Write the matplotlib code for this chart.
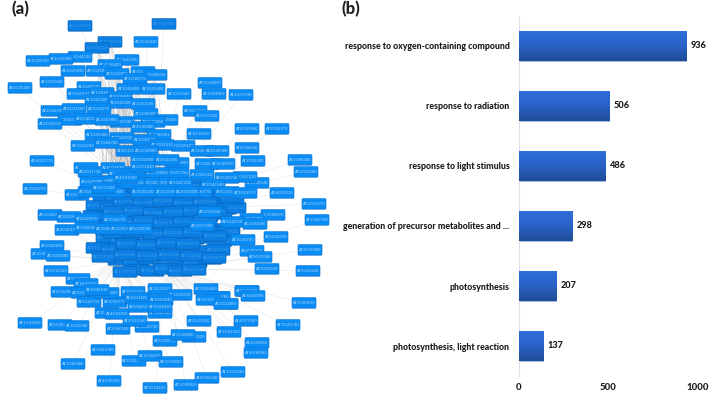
import numpy as np
import matplotlib
matplotlib.use("Agg")
import matplotlib.pyplot as plt
from matplotlib.collections import LineCollection
from matplotlib.patches import FancyBboxPatch

plt.rcParams['font.family'] = ['Lato', 'DejaVu Sans']

# Panel (b): enriched terms
terms = ["response to oxygen-containing compound", "response to radiation",
         "response to light stimulus", "generation of precursor metabolites and ...",
         "photosynthesis", "photosynthesis, light reaction"]
counts = [936, 506, 486, 298, 207, 137]
count_ticks = [0, 500, 1000]

# Panel (a): network nodes
core_labels = ["AT1G09340", "AT3G47470", "AT1G32060", "AT5G38410", "AT1G29930", "AT2G39730", "AT3G54890", "AT1G61520",
               "AT4G10340", "AT5G54270", "AT1G15820", "AT3G08940", "AT3G27690", "AT2G05100", "AT1G19150", "AT4G09650",
               "AT5G66570", "AT1G79040", "AT2G30570", "AT1G44575", "AT3G50820", "AT4G05180", "AT1G06680", "AT5G01530",
               "AT3G55330", "AT2G40100", "AT1G31330", "AT1G55670", "AT4G12800", "AT3G16140", "AT1G52230", "AT5G64040",
               "AT2G46820", "AT1G03130", "AT4G28750", "AT3G21055", "AT1G14150", "AT2G06520", "AT3G01440", "AT5G66190",
               "AT1G20020", "AT4G32260", "AT3G26650", "AT1G42970", "AT2G20260", "AT5G30510", "AT1G12900", "AT3G62410",
               "AT4G04640", "AT1G76100", "AT2G47400", "AT3G63140", "AT1G67090", "AT5G14740", "AT2G39470", "AT3G60750",
               "AT1G74970", "AT4G21280", "AT5G23120", "AT1G68010", "AT3G56940", "AT2G21330", "AT1G43800", "AT4G37930",
               "AT3G04790", "AT5G13630", "AT1G71500", "AT2G13360", "AT3G11630", "AT1G49750", "AT4G24770", "AT5G51545",
               "AT1G07320", "AT2G33800", "AT3G15190", "AT4G34620", "AT5G02870", "AT1G24510", "AT3G25920", "AT2G43030",
               "AT1G75330", "AT5G47190", "AT4G17600", "AT3G13470", "AT1G78630", "AT2G17360", "AT5G16390", "AT3G52150",
               "AT1G26230", "AT4G29060", "AT5G41950", "AT2G24090", "AT3G06730", "AT1G56190", "AT4G39710", "AT5G08650",
               "AT2G35500", "AT3G48730", "AT1G33240", "AT4G13670", "AT5G35220", "AT1G60600",
               "AT1G66230", "AT3G09270", "AT4G11650", "AT2G29350", "AT5G42800", "AT1G17020", "AT3G53260", "AT2G38120",
               "AT4G08920", "AT5G57560", "AT1G72520", "AT3G22840", "AT2G26670", "AT5G06510"]
core_x = [105, 118, 132, 146, 160, 174, 188, 202, 216, 228, 98, 112, 126, 140, 154, 168, 182, 196, 210, 224,
          95, 108, 122, 136, 150, 164, 178, 192, 206, 220, 234, 102, 116, 130, 144, 158, 172, 186, 200, 214,
          228, 108, 122, 136, 150, 164, 178, 192, 206, 220, 98, 113, 128, 143, 158, 173, 188, 203, 218, 120,
          135, 150, 165, 180, 195, 210, 138, 152, 166, 125, 180, 194,
          125, 145, 165, 185, 205, 115, 135, 155, 175, 195, 215, 125, 145, 165, 185, 205, 115, 135, 155, 175,
          195, 215, 128, 148, 168, 188,
          100, 122, 140, 158, 176, 194, 212, 104, 126, 148, 170, 192, 214, 232]
core_y = [197, 198, 196, 199, 197, 199, 198, 197, 199, 203, 206, 208, 207, 205, 208, 206, 209, 207, 206, 209,
          216, 217, 218, 215, 218, 216, 219, 217, 216, 214, 208, 226, 228, 226, 229, 227, 226, 228, 227, 229,
          232, 238, 240, 237, 240, 238, 241, 239, 238, 241, 248, 250, 249, 251, 248, 250, 249, 251, 250, 260,
          261, 259, 262, 260, 262, 259, 270, 271, 269, 272, 271, 270,
          202, 203, 201, 203, 202, 212, 211, 213, 212, 211, 212, 222, 221, 223, 222, 221, 233, 232, 234, 233,
          232, 236, 244, 245, 243, 244,
          187, 186, 188, 186, 188, 186, 188, 257, 255, 256, 255, 256, 258, 198]

top_labels = ["AT2G34430", "AT5G44190", "AT1G52930", "AT4G28750", "AT3G22690", "AT2G38420", "AT2G20890", "AT3G21890",
              "AT3G12800", "AT3G01470", "AT5G09330", "AT3G18773", "AT1G20340", "AT4G25180", "AT3G30570", "AT3G02850",
              "AT1G51400", "AT1G29930", "AT3G17040", "AT3G04459", "AT1G70790", "AT3G50147", "AT1G01850", "AT3G03320",
              "AT4G38840", "AT3G02200", "AT1G51500", "AT2G44760", "AT4G21500", "AT5G11270", "AT3G27690", "AT1G79110",
              "AT1G09390", "AT3G47470", "AT5G40520", "AT4G28510", "AT1G15820", "AT5G01160", "AT2G07280", "AT1G67865",
              "AT4G36060", "AT4G35860", "AT5G05370", "AT1G14150", "AT1G30380", "AT3G02301", "AT2G22230", "AT1G04780",
              "AT3G10520", "AT1G12230", "AT5G10180", "AT1G32410", "AT5G08410", "AT1G60950", "AT5G46580", "AT4G15990",
              "AT2G18360", "AT4G22770", "AT2G01280", "AT1G08380", "AT1G52200", "AT1G73470", "AT2G24270", "AT2G37630",
              "AT3G47600", "AT2G20890"]
top_x = [80, 164, 110, 97, 146, 80, 61, 38, 127, 110, 73, 98, 117, 143, 155, 135, 52, 20, 89, 129, 153, 210, 179, 214,
         241, 79, 102, 97, 120, 121, 143, 53, 74, 99, 195, 207, 146, 70, 87, 50, 166, 153, 122, 107, 143, 247, 277,
         199, 97, 159, 122, 107, 145, 83, 183, 162, 247, 202, 217, 128, 146, 42, 253, 300, 306, 86]
top_y = [26, 24, 42, 48, 42, 57, 59, 61, 60, 65, 71, 71, 74, 72, 75, 79, 82, 88, 87, 89, 89, 83, 94, 94, 95, 94,
         93, 100, 97, 103, 104, 111, 109, 109, 111, 116, 114, 120, 119, 124, 120, 122, 122, 120, 127, 129, 129,
         134, 135, 135, 138, 143, 140, 146, 146, 145, 148, 151, 151, 151, 151, 161, 161, 160, 172, 168]

mid_labels = ["AT4G28510", "AT5G20140", "AT1G22120", "AT3G50710", "AT1G28140", "AT1G48970", "AT3G16280", "AT1G01520",
              "AT2G42540", "AT5G33340", "AT3G21570", "AT1G20770", "AT2G37750", "AT3G19820", "AT1G10070", "AT3G25520",
              "AT4G24620", "AT2G25080", "AT1G80070", "AT2G31790", "AT3G54000", "AT1G71430", "AT2G32990", "AT4G33500",
              "AT1G55330", "AT5G13410", "AT1G47128", "AT3G45140", "AT1G10950", "AT3G55800", "AT1G76570", "AT2G40490",
              "AT5G17230", "AT4G31990", "AT1G62780", "AT3G04870", "AT1G18060", "AT3G14190"]
mid_x = [35, 77, 90, 113, 282, 257, 245, 227, 207, 223, 177, 202, 213, 227, 245, 200, 177, 157, 157, 133, 113,
         120, 110, 90, 143, 143, 143, 167, 147, 133, 180, 143, 167, 187, 314, 92, 104, 126]
mid_y = [189, 195, 192, 192, 193, 183, 177, 178, 164, 164, 163, 175, 185, 192, 193, 192, 173, 173, 183, 172, 168,
         174, 181, 172, 160, 167, 192, 160, 183, 183, 183, 192, 192, 192, 204, 182, 188, 178]

right_labels = ["AT1G10760", "AT3G15800", "AT2G30810", "AT5G29090", "AT5G01530", "AT1G53240", "AT1G07040", "AT3G57260",
                "AT5G22790", "AT1G02560", "AT1G32080", "AT3G04890", "AT3G08310", "AT1G69530", "AT3G26740", "AT4G27560",
                "AT2G15620", "AT3G61320", "AT5G05810", "AT4G16980", "AT1G23330", "AT5G04240", "AT1G36830", "AT5G24165",
                "AT1G14580", "AT3G30820", "AT4G29070", "AT3G04770"]
right_x = [317, 273, 252, 276, 243, 310, 252, 260, 267, 308, 210, 202, 233, 255, 247, 226, 218, 304, 288, 246,
           199, 229, 257, 256, 233, 207, 186, 155]
right_y = [220, 215, 219, 237, 240, 250, 251, 257, 269, 271, 212, 226, 222, 224, 291, 304, 297, 303, 325, 321,
           321, 332, 343, 353, 372, 378, 385, 388]

left_labels = ["AT4G25190", "AT1G56980", "AT1G08170", "AT3G35890", "AT5G25030", "AT3G02830", "AT1G30960", "AT3G50880",
               "AT1G12310", "AT5G26090", "AT1G42550", "AT5G32850", "AT5G24210", "AT5G43750", "AT3G03770", "AT2G36850",
               "AT2G45190", "AT1G12150", "AT3G11110", "AT2G33150", "AT1G33130", "AT3G33640", "AT2G28900", "AT2G01780",
               "AT5G12610", "AT5G26660", "AT3G01090", "AT3G38170", "AT4G01050", "AT3G02520", "AT3G60090", "AT3G02730",
               "AT3G60245", "AT3G24810", "AT3G29140", "AT3G24860", "AT1G33030", "AT3G36530", "AT3G11080", "AT3G61780",
               "AT3G06400", "AT4G36150", "AT3G014210", "AT1G50870", "AT5G20570", "AT1G78020", "AT4G33030", "AT3G38680",
               "AT5G42050", "AT1G21250", "AT4G22370", "AT4G30810"]
left_x = [50, 69, 87, 115, 67, 87, 107, 122, 140, 52, 43, 58, 56, 78, 86, 63, 83, 89, 115, 107, 97, 133, 137, 160,
          180, 161, 206, 218, 208, 247, 253, 107, 117, 140, 118, 147, 160, 160, 135, 226, 30, 60, 77, 103, 73, 109,
          134, 150, 165, 171, 194, 183]
left_y = [215, 217, 219, 220, 230, 228, 229, 229, 229, 246, 254, 256, 271, 279, 284, 292, 293, 302, 302, 293, 290,
          292, 298, 289, 295, 300, 289, 297, 300, 291, 296, 313, 314, 307, 329, 327, 313, 307, 321, 304, 323, 325,
          326, 350, 364, 381, 361, 356, 341, 362, 337, 335]

# which core nodes the outer regions are wired to
top_hubs = ["AT1G19150"]
mid_hubs = ["AT5G66570"]
right_hubs = ["AT3G11630"]
left_hubs = ["AT1G68010"]
# the dense grey bundle above the core
bundle_x = [110, 97, 127, 110, 98, 117, 143, 155, 135, 129, 153, 102, 120, 121, 143, 99, 146, 122, 107, 143, 97, 159, 122, 145, 107]
bundle_y = [42, 48, 60, 65, 71, 74, 72, 75, 79, 89, 89, 93, 97, 103, 104, 109, 114, 122, 120, 127, 135, 135, 138, 140, 143]
bundle_hubs = ["AT1G09340", "AT3G47470", "AT1G32060", "AT5G38410", "AT2G39730", "AT1G29930"]

fig = plt.figure(figsize=(7.09, 4.0), dpi=100, facecolor="white")

# network panel uses the picture's own pixel grid for its layout
net = fig.add_axes([0, 0, 1, 1])
net.set_xlim(0, 709)
net.set_ylim(400, 0)
net.axis("off")

labels = core_labels + top_labels + mid_labels + right_labels + left_labels
xs = core_x + top_x + mid_x + right_x + left_x
ys = core_y + top_y + mid_y + right_y + left_y
pos = {}
for lab, x, y in zip(labels, xs, ys):
    pos.setdefault(lab, (x, y))


def wire(xlist, ylist, hubs):
    segs = []
    for x, y in zip(xlist, ylist):
        for h in hubs:
            segs.append([(x, y), pos[h]])
    return segs


segs = wire(top_x, top_y, top_hubs) + wire(mid_x, mid_y, mid_hubs) \
    + wire(right_x, right_y, right_hubs) + wire(left_x, left_y, left_hubs)
net.add_collection(LineCollection(segs, colors="#b5b5b5", linewidths=0.4, alpha=0.3, zorder=1))
net.add_collection(LineCollection(wire(bundle_x, bundle_y, bundle_hubs), colors="#999999", linewidths=0.3,
                                  alpha=0.4, zorder=1))

z = 2
for i, (lab, x, y) in enumerate(zip(labels, xs, ys)):
    w, h = 24, 10.5
    # boxes inside the core read darker, the stack of shadows hides their text
    in_core = i < len(core_labels)
    fcol = "#0a7ee2" if in_core else "#0a8cf5"
    ecol = "#0664ba" if in_core else "#0a78d8"
    tcol = "#3f9fed" if in_core else "#a9d6fa"
    net.add_patch(FancyBboxPatch((x - w / 2 + 1, y - h / 2 + 1.5), w - 2, h - 2, boxstyle="round,pad=1.1",
                                 fc="#0a5fae", ec="none", alpha=0.4, zorder=z))
    net.add_patch(FancyBboxPatch((x - w / 2 + 1, y - h / 2 + 0.8), w - 2, h - 2, boxstyle="round,pad=1",
                                 fc=fcol, ec=ecol, lw=0.4, zorder=z + 0.1))
    net.text(x, y, lab, color=tcol, fontsize=3.1, ha="center", va="center", zorder=z + 0.2,
             family=["Liberation Sans", "DejaVu Sans"])
    z += 0.3

net.text(12, 9.5, "(a)", fontsize=12, fontweight=900, color="#222222", ha="left", va="center", zorder=z + 1)
net.text(341, 9.5, "(b)", fontsize=12, fontweight=900, color="#222222", ha="left", va="center", zorder=z + 1)

# bar panel
ax = fig.add_axes([518.5 / 709, 1 - 376 / 400, (697.5 - 518.5) / 709, 360 / 400])
ax.patch.set_alpha(0)
ypos = np.arange(len(terms))
bars = ax.barh(ypos, counts, height=0.5, color="#2a60c0", edgecolor="#a9c3e8", linewidth=0.6, zorder=2)
grad = np.linspace(0, 1, 64).reshape(-1, 1)
cmap = matplotlib.colors.LinearSegmentedColormap.from_list("bar", ["#2f6ddb", "#2a62c4", "#1f4c98"])
for b, yy, v in zip(bars, ypos, counts):
    ax.barh(yy + 0.012, v + 4, height=0.5, color="#c9ced6", zorder=1.5)
    im = ax.imshow(grad, extent=[0, v, yy + 0.25, yy - 0.25], cmap=cmap, aspect="auto", zorder=3)
    im.set_clip_path(b)
    ax.text(v + 27, yy, str(v), fontsize=6.6, fontweight=900, color="#1a1a1a", va="center", ha="left")

ax.set_xlim(0, 1000)
ax.set_ylim(len(terms) - 0.5, -0.5)
ax.set_xticks(count_ticks)
ax.set_xticklabels(count_ticks, fontsize=6.8, fontweight=900, color="#1a1a1a")
ax.set_yticks(ypos)
ax.set_yticklabels(terms, fontsize=6.3, fontweight=900, color="#1a1a1a")
ax.tick_params(axis="both", length=0)
ax.tick_params(axis="y", pad=6.5)
ax.tick_params(axis="x", pad=5)
for s in ["top", "right", "bottom"]:
    ax.spines[s].set_visible(False)
ax.spines["left"].set_color("#dde1e6")
ax.spines["left"].set_linewidth(0.8)

fig.savefig("out.png", dpi=100)
